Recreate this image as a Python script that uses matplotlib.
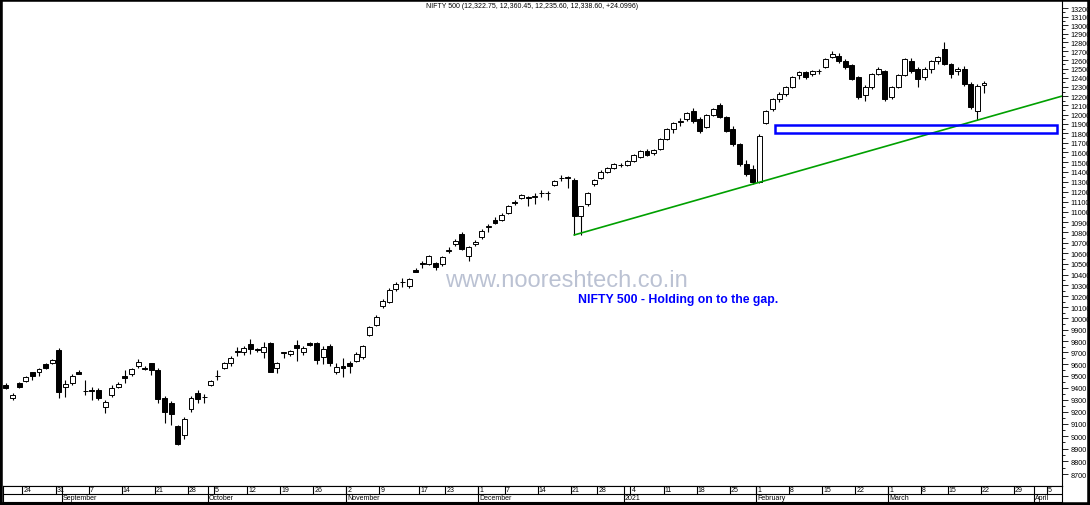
import numpy as np
import pandas as pd
import matplotlib.pyplot as plt
from matplotlib.patches import Rectangle
from matplotlib.ticker import FixedLocator, NullFormatter

plt.rcParams['font.family'] = ['Liberation Sans', 'DejaVu Sans']

# trading calendar (NSE holidays removed, Diwali muhurat session added)
holidays = ['2020-10-02', '2020-11-16', '2020-11-30', '2020-12-25', '2021-01-26', '2021-03-11']
muhurat = ['2020-11-14']
days = pd.bdate_range('2020-08-19', '2021-04-09')
days = days[~days.isin(pd.to_datetime(holidays))].union(pd.to_datetime(muhurat))

opens = [9425, 9315, 9440, 9458, 9528, 9528, 9600, 9606, 9725, 9402,
         9440, 9533, 9375, 9382, 9378, 9236, 9338, 9405, 9498, 9515,
         9582, 9568, 9605, 9550, 9312, 9275, 9085, 9010, 9220, 9358,
         9318, 9422, 9498, 9565, 9606, 9710, 9702, 9774, 9728, 9706,
         9783, 9570, 9695, 9683, 9765, 9706, 9780, 9780, 9657, 9760,
         9536, 9585, 9606, 9630, 9657, 9853, 9941, 10115, 10150, 10270,
         10335, 10290, 10445, 10512, 10498, 10509, 10500, 10625, 10688, 10785,
         10577, 10690, 10751, 10850, 10923, 10923, 10989, 11100, 11140, 11145,
         11150, 11185, 11190, 11272, 11335, 11345, 11320, 10960, 11078, 11275,
         11340, 11400, 11445, 11475, 11470, 11510, 11555, 11620, 11590, 11640,
         11740, 11850, 11925, 11953, 12040, 11953, 11870, 12000, 12100, 11975,
         11850, 11690, 11480, 11430, 11300, 11910, 12060, 12170, 12220, 12300,
         12430, 12465, 12440, 12475, 12520, 12635, 12650, 12590, 12545, 12410,
         12210, 12300, 12440, 12475, 12190, 12300, 12430, 12590, 12500, 12410,
         12500, 12590, 12725, 12555, 12475, 12500, 12330, 12040, 12322.75]
highs = [9435, 9352, 9445, 9495, 9535, 9562, 9605, 9645, 9740, 9463,
         9515, 9550, 9463, 9405, 9400, 9300, 9420, 9448, 9545, 9565,
         9643, 9585, 9610, 9562, 9330, 9290, 9090, 9155, 9327, 9382,
         9350, 9462, 9550, 9615, 9672, 9745, 9760, 9814, 9740, 9790,
         9793, 9615, 9702, 9725, 9806, 9760, 9790, 9790, 9760, 9774,
         9612, 9650, 9630, 9700, 9765, 9935, 10030, 10175, 10275, 10330,
         10365, 10370, 10460, 10530, 10585, 10520, 10570, 10660, 10740, 10800,
         10665, 10730, 10830, 10880, 10945, 10985, 11070, 11120, 11180, 11160,
         11190, 11215, 11210, 11320, 11370, 11360, 11340, 11060, 11195, 11330,
         11420, 11450, 11490, 11490, 11520, 11585, 11625, 11640, 11640, 11750,
         11860, 11920, 11960, 12030, 12070, 11970, 12010, 12070, 12130, 11990,
         11880, 11700, 11520, 11470, 11790, 12050, 12180, 12240, 12310, 12420,
         12480, 12480, 12490, 12500, 12620, 12700, 12680, 12610, 12560, 12420,
         12320, 12450, 12520, 12490, 12310, 12440, 12620, 12620, 12520, 12520,
         12600, 12650, 12800, 12570, 12520, 12530, 12350, 12330, 12360.45]
lows = [9385, 9296, 9400, 9450, 9462, 9500, 9555, 9600, 9313, 9324,
        9420, 9512, 9338, 9300, 9300, 9190, 9325, 9398, 9440, 9495,
        9565, 9545, 9505, 9270, 9105, 9090, 8930, 8975, 9200, 9275,
        9275, 9415, 9463, 9555, 9585, 9666, 9678, 9687, 9705, 9649,
        9530, 9522, 9649, 9673, 9630, 9680, 9760, 9598, 9598, 9585,
        9514, 9486, 9522, 9615, 9640, 9840, 9930, 10090, 10140, 10250,
        10285, 10280, 10420, 10465, 10485, 10445, 10480, 10600, 10670, 10630,
        10530, 10670, 10740, 10800, 10880, 10910, 10980, 11070, 11130, 11060,
        11080, 11145, 11120, 11260, 11310, 11235, 10775, 10775, 11060, 11260,
        11330, 11390, 11430, 11455, 11460, 11500, 11540, 11560, 11570, 11630,
        11730, 11800, 11880, 11930, 11910, 11800, 11860, 11990, 11960, 11810,
        11670, 11460, 11360, 11280, 11290, 11900, 12040, 12140, 12200, 12290,
        12390, 12390, 12420, 12440, 12510, 12620, 12570, 12500, 12380, 12170,
        12150, 12280, 12430, 12150, 12170, 12290, 12420, 12460, 12300, 12380,
        12450, 12560, 12540, 12400, 12430, 12310, 12060, 11940, 12235.6]
closes = [9395, 9338, 9405, 9488, 9495, 9556, 9562, 9634, 9360, 9430,
          9500, 9518, 9372, 9368, 9312, 9277, 9400, 9430, 9485, 9555,
          9620, 9555, 9548, 9305, 9195, 9180, 8935, 9140, 9312, 9305,
          9322, 9455, 9502, 9606, 9648, 9702, 9737, 9728, 9720, 9750,
          9533, 9612, 9700, 9713, 9742, 9740, 9768, 9638, 9728, 9612,
          9575, 9562, 9585, 9687, 9753, 9920, 10016, 10160, 10260, 10315,
          10330, 10360, 10425, 10500, 10571, 10468, 10560, 10630, 10720, 10640,
          10657, 10710, 10816, 10860, 10891, 10972, 11060, 11085, 11168, 11140,
          11155, 11190, 11188, 11310, 11340, 11340, 10963, 11060, 11187, 11320,
          11400, 11445, 11480, 11470, 11510, 11575, 11620, 11575, 11630, 11740,
          11850, 11910, 11930, 12020, 11930, 11825, 12000, 12060, 11975, 11825,
          11690, 11480, 11380, 11300, 11770, 12040, 12170, 12220, 12300, 12410,
          12465, 12410, 12475, 12480, 12610, 12670, 12590, 12520, 12390, 12190,
          12300, 12440, 12500, 12170, 12300, 12430, 12610, 12475, 12390, 12500,
          12590, 12635, 12555, 12440, 12500, 12330, 12080, 12314, 12338.6]

y_ticks = list(range(8700, 13201, 100))
title = 'NIFTY 500 (12,322.75, 12,360.45, 12,235.60, 12,338.60, +24.0996)'
note = 'NIFTY 500 - Holding on to the gap.'
watermark = 'www.nooreshtech.co.in'

o = np.array(opens)
h = np.array(highs)
l = np.array(lows)
c = np.array(closes)
x = np.arange(len(o))

W, H = 1090, 506
fig = plt.figure(figsize=(W / 100, H / 100), dpi=100)
ax = fig.add_axes([3 / W, (H - 487) / H, 1059 / W, 485 / H])
ax.set_yscale('log')
ax.set_xlim(-0.45, 159.8)
ax.set_ylim(8608, 13283)

# candles
ax.vlines(x, l, h, color='black', lw=0.8, zorder=2)
body = np.maximum(np.abs(c - o), 0.5)
ax.bar(x, body, bottom=np.minimum(o, c), width=0.75,
       color=np.where(c >= o, 'white', 'black'), edgecolor='black', lw=0.7, zorder=3)

# trend line and gap box
ax.plot([86, 159.8], [10775, 12200], color='#00a000', lw=1.2, zorder=4)
ax.add_patch(Rectangle((116.3, 11800), 159 - 116.3, 90, fill=False,
                       edgecolor='#0000ff', lw=1.8, zorder=4))

ax.text(86.5, 10175, note, color='#0000ff', fontsize=8.8, fontweight='bold', va='center')
ax.text(66.4, 10349, watermark, color='#b0b8cc', fontsize=17, va='center', alpha=0.85, zorder=1)
ax.text(0.5, 0.99, title, transform=ax.transAxes, ha='center', va='center', fontsize=5)

ax.yaxis.tick_right()
ax.yaxis.set_major_locator(FixedLocator(y_ticks))
ax.yaxis.set_major_formatter(plt.FuncFormatter(lambda v, p: f'{v:.0f}'))
ax.yaxis.set_minor_locator(FixedLocator([v + 50 for v in y_ticks[:-1]]))
ax.yaxis.set_minor_formatter(NullFormatter())
ax.tick_params(axis='y', which='major', length=4, width=0.6, labelsize=5.2, pad=2)
ax.tick_params(axis='y', which='minor', length=2, width=0.6)
ax.set_xticks([])
for s in ['left', 'top']:
    ax.spines[s].set_visible(False)
ax.spines['right'].set_linewidth(0.8)
ax.spines['bottom'].set_linewidth(0.8)

# date strip
sx = fig.add_axes([3 / W, (H - 503) / H, 1059 / W, 16 / H])
sx.set_xlim(ax.get_xlim())
sx.set_ylim(0, 2)
sx.set_xticks([])
sx.set_yticks([])
for s in sx.spines.values():
    s.set_linewidth(0.8)
sx.axhline(1, color='black', lw=0.8)
for k in range(1, len(days)):
    d, prev = days[k], days[k - 1]
    if k - 0.5 > 159.8:
        break
    if d.month != prev.month:
        sx.vlines(k - 0.5, 0, 2, color='black', lw=0.8)
        name = str(d.year) if d.month == 1 else d.strftime('%B')
        sx.text(k - 0.35, 0.5, name, fontsize=5, va='center')
    if d.isocalendar()[1] != prev.isocalendar()[1]:
        sx.vlines(k - 0.5, 1, 2, color='black', lw=0.8)
        sx.text(k - 0.35, 1.5, str(d.day), fontsize=5, va='center')

fig.patches.append(Rectangle((0, 0), 1, 1, transform=fig.transFigure, fill=False,
                             edgecolor='black', lw=4))

fig.savefig('out.png', dpi=100)
